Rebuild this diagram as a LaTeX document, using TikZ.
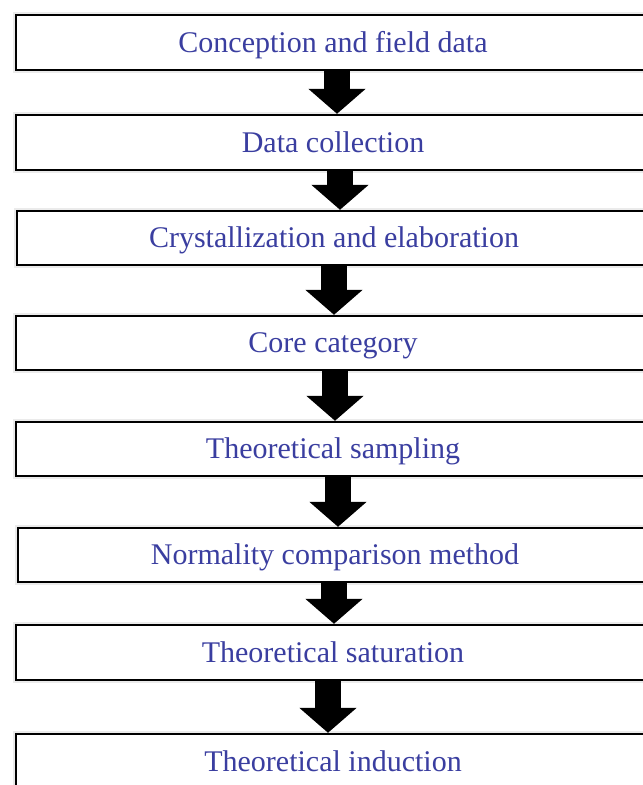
\documentclass[tikz,border=0pt]{standalone}
\usepackage{fontspec}
\setmainfont{Liberation Serif}
\usetikzlibrary{arrows.meta}
\definecolor{txtblue}{RGB}{58,62,160}
\begin{document}
\begin{tikzpicture}[x=1pt,y=-1pt,
  stepbox/.style={draw=black, line width=2.4pt, fill=white,
    preaction={draw=black!8, line width=6pt},
    minimum width=634pt, minimum height=55pt, inner sep=0pt,
    font=\fontsize{30}{36}\selectfont, text=txtblue,
    text height=20pt, text depth=1pt},
  flow/.style={draw=black, line width=26pt, -{Triangle[width=56pt,length=25pt]}}]
\useasboundingbox (0,0) rectangle (643,785);
\clip (0,0) rectangle (643,785);
\node[stepbox] (b1) at (333,42.5) {Conception and field data};
\node[stepbox] (b2) at (333,142.5) {Data collection};
\node[stepbox, minimum height=54pt] (b3) at (334,238) {Crystallization and elaboration};
\node[stepbox, minimum height=54pt] (b4) at (333,343) {Core category};
\node[stepbox, minimum height=54pt] (b5) at (333,449) {Theoretical sampling};
\node[stepbox, minimum height=54pt] (b6) at (335,555) {Normality comparison method};
\node[stepbox] (b7) at (333,652.5) {Theoretical saturation};
\node[stepbox] (b8) at (333,761.5) {Theoretical induction};
\draw[flow] ([xshift=4pt]b1.south) -- ([xshift=4pt]b1.south |- b2.north);
\draw[flow] ([xshift=7pt]b2.south) -- ([xshift=7pt]b2.south |- b3.north);
\draw[flow] ([xshift=0pt]b3.south) -- ([xshift=0pt]b3.south |- b4.north);
\draw[flow] ([xshift=2pt]b4.south) -- ([xshift=2pt]b4.south |- b5.north);
\draw[flow] ([xshift=5pt]b5.south) -- ([xshift=5pt]b5.south |- b6.north);
\draw[flow] ([xshift=-1pt]b6.south) -- ([xshift=-1pt]b6.south |- b7.north);
\draw[flow] ([xshift=-5pt]b7.south) -- ([xshift=-5pt]b7.south |- b8.north);
\end{tikzpicture}
\end{document}
